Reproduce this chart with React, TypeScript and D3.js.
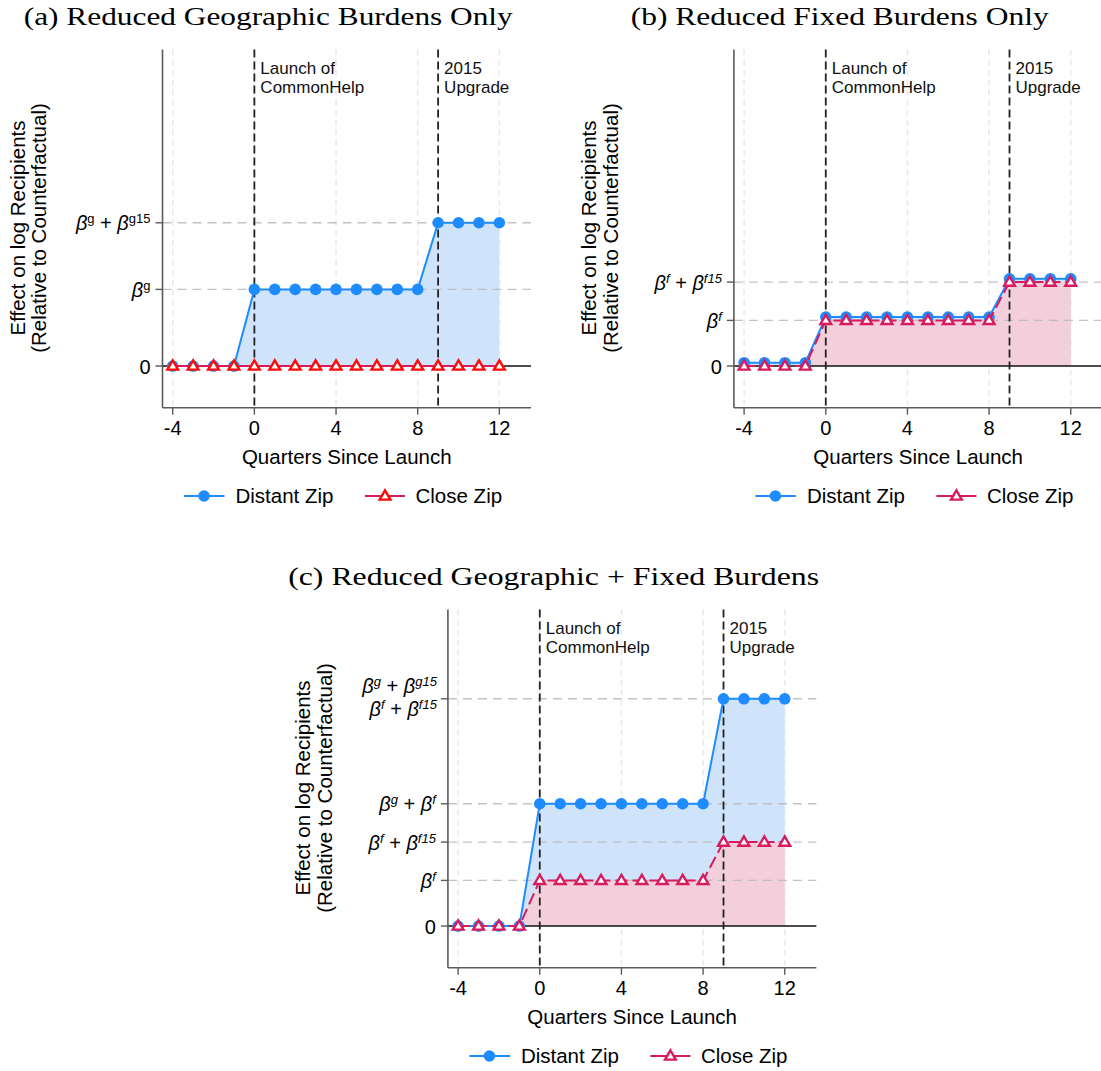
import React from "react";
import * as d3 from "d3";

// Quarters relative to the CommonHelp launch
const quarters = [-4, -3, -2, -1, 0, 1, 2, 3, 4, 5, 6, 7, 8, 9, 10, 11, 12];
const xTicks = [-4, 0, 4, 8, 12];
const eventQuarters = [0, 9];
const eventLabels = [
  ["Launch of", "CommonHelp"],
  ["2015", "Upgrade"],
];

// (a) geographic burdens only
const distantA = [0, 0, 0, 0, 0.23, 0.23, 0.23, 0.23, 0.23, 0.23, 0.23, 0.23, 0.23, 0.43, 0.43, 0.43, 0.43];
const closeA = [0, 0, 0, 0, 0, 0, 0, 0, 0, 0, 0, 0, 0, 0, 0, 0, 0];
// (b) fixed burdens only
const distantB = [0.01, 0.01, 0.01, 0.01, 0.147, 0.147, 0.147, 0.147, 0.147, 0.147, 0.147, 0.147, 0.147, 0.262, 0.262, 0.262, 0.262];
const closeB = [0, 0, 0, 0, 0.137, 0.137, 0.137, 0.137, 0.137, 0.137, 0.137, 0.137, 0.137, 0.252, 0.252, 0.252, 0.252];
// (c) geographic + fixed burdens
const distantC = [0, 0, 0, 0, 0.367, 0.367, 0.367, 0.367, 0.367, 0.367, 0.367, 0.367, 0.367, 0.682, 0.682, 0.682, 0.682];
const closeC = [0, 0, 0, 0, 0.137, 0.137, 0.137, 0.137, 0.137, 0.137, 0.137, 0.137, 0.137, 0.252, 0.252, 0.252, 0.252];

type Seg = { t: string; sup?: boolean; it?: boolean };
type TickLabel = { v: number; lines: Seg[][] };

const B: Seg = { t: "β", it: true };
const PLUS: Seg = { t: " + " };

const ticksA: TickLabel[] = [
  { v: 0, lines: [[{ t: "0" }]] },
  { v: 0.23, lines: [[B, { t: "g", sup: true }]] },
  { v: 0.43, lines: [[B, { t: "g", sup: true }, PLUS, B, { t: "g15", sup: true }]] },
];
const ticksB: TickLabel[] = [
  { v: 0, lines: [[{ t: "0" }]] },
  { v: 0.137, lines: [[B, { t: "f", sup: true }]] },
  { v: 0.252, lines: [[B, { t: "f", sup: true }, PLUS, B, { t: "f15", sup: true }]] },
];
const ticksC: TickLabel[] = [
  { v: 0, lines: [[{ t: "0" }]] },
  { v: 0.137, lines: [[B, { t: "f", sup: true }]] },
  { v: 0.252, lines: [[B, { t: "f", sup: true }, PLUS, B, { t: "f15", sup: true }]] },
  { v: 0.367, lines: [[B, { t: "g", sup: true }, PLUS, B, { t: "f", sup: true }]] },
  {
    v: 0.682,
    lines: [
      [B, { t: "g", sup: true }, PLUS, B, { t: "g15", sup: true }],
      [B, { t: "f", sup: true }, PLUS, B, { t: "f15", sup: true }],
    ],
  },
];

const titles = [
  "(a) Reduced Geographic Burdens Only",
  "(b) Reduced Fixed Burdens Only",
  "(c) Reduced Geographic + Fixed Burdens",
];

const BLUE = "#1e8cff";
const BLUE_FILL = "#cfe3fb";
const CRIMSON = "#d81b5e";
const PINK_FILL = "#f3cedb";
const RED = "#ff0a0a";
const SANS = "'Liberation Sans', Arial, Helvetica, sans-serif";
const SERIF = "'Liberation Serif', 'Times New Roman', serif";

// Plot frame (local coordinates of a panel)
const L = 162.5;
const R = 531;
const T = 49.5;
const BOT = 407.7;

const x = d3.scaleLinear().domain([-4.5, 13.55]).range([L, R]);
const y = d3.scaleLinear().domain([-0.125, 0.95]).range([BOT, T]);

function triPath(cx: number, cy: number) {
  return `M${cx},${cy - 5.6}L${cx + 5.4},${cy + 3.6}L${cx - 5.4},${cy + 3.6}Z`;
}

function TickText({ segs, xr, yb, supItalic }: { segs: Seg[]; xr: number; yb: number; supItalic: boolean }) {
  let raised = false;
  return (
    <text x={xr} y={yb} textAnchor="end" fontFamily={SANS} fontSize={20} fill="#000">
      {segs.map((s, i) => {
        let dy = 0;
        if (s.sup && !raised) {
          dy = -7;
          raised = true;
        } else if (!s.sup && raised) {
          dy = 7;
          raised = false;
        }
        return (
          <tspan
            key={i}
            dy={dy}
            fontSize={s.sup ? 13 : 20}
            fontStyle={s.it || (s.sup && supItalic) ? "italic" : "normal"}
          >
            {s.t}
          </tspan>
        );
      })}
    </text>
  );
}

function Panel(props: {
  ox: number;
  oy: number;
  title: string;
  titleWidth: number;
  distant: number[];
  close: number[];
  ticks: TickLabel[];
  triColor: string;
  closeDash: string | undefined;
  supItalic: boolean;
}) {
  const { ox, oy, title, titleWidth, distant, close, ticks, triColor, closeDash, supItalic } = props;
  const dData = quarters.map((q, i) => [q, distant[i]] as [number, number]);
  const cData = quarters.map((q, i) => [q, close[i]] as [number, number]);
  const line = d3
    .line<[number, number]>()
    .x((d) => x(d[0]))
    .y((d) => y(d[1]));
  const area = d3
    .area<[number, number]>()
    .x((d) => x(d[0]))
    .y0(y(0))
    .y1((d) => y(d[1]));
  const cx = (L + R) / 2;

  return (
    <g transform={`translate(${ox},${oy})`}>
      <text
        x={cx - 78.5}
        y={25}
        textAnchor="middle"
        fontFamily={SERIF}
        fontSize={26}
        textLength={titleWidth}
        lengthAdjust="spacingAndGlyphs"
      >
        {title}
      </text>

      {/* light vertical grid */}
      {xTicks.map((q) => (
        <line key={q} x1={x(q)} x2={x(q)} y1={T} y2={BOT} stroke="#e9e9e9" strokeWidth={1.5} strokeDasharray="6,4" />
      ))}

      {/* shaded areas */}
      <path d={area(dData) || ""} fill={BLUE_FILL} />
      <path d={area(cData) || ""} fill={PINK_FILL} />

      {/* horizontal reference lines */}
      {ticks
        .filter((t) => t.v !== 0)
        .map((t) => (
          <line
            key={t.v}
            x1={L}
            x2={R}
            y1={y(t.v)}
            y2={y(t.v)}
            stroke="#b9b9b9"
            strokeOpacity={0.85}
            strokeWidth={1.4}
            strokeDasharray="9,6"
          />
        ))}
      <line x1={L} x2={R} y1={y(0)} y2={y(0)} stroke="#111" strokeWidth={1.5} />

      {/* event lines */}
      {eventQuarters.map((q, i) => (
        <g key={q}>
          <line x1={x(q)} x2={x(q)} y1={T} y2={BOT} stroke="#222" strokeWidth={1.8} strokeDasharray="8,4" />
          {eventLabels[i].map((s, j) => (
            <text key={j} x={x(q) + 6} y={74 + j * 18.5} fontFamily={SANS} fontSize={17} fill="#111">
              {s}
            </text>
          ))}
        </g>
      ))}

      {/* axes */}
      <line x1={L} x2={L} y1={T} y2={BOT} stroke="#5a5a5a" strokeWidth={1.6} />
      <line x1={L} x2={R} y1={BOT} y2={BOT} stroke="#5a5a5a" strokeWidth={1.6} />
      {xTicks.map((q) => (
        <g key={q}>
          <line x1={x(q)} x2={x(q)} y1={BOT} y2={BOT + 7} stroke="#5a5a5a" strokeWidth={1.4} />
          <text x={x(q)} y={435} textAnchor="middle" fontFamily={SANS} fontSize={20}>
            {q}
          </text>
        </g>
      ))}
      {ticks.map((t) => (
        <g key={t.v}>
          <line x1={L - 7} x2={L} y1={y(t.v)} y2={y(t.v)} stroke="#5a5a5a" strokeWidth={1.4} />
          {t.lines.length === 1 ? (
            <TickText segs={t.lines[0]} xr={L - 12} yb={y(t.v) + 7.5} supItalic={supItalic} />
          ) : (
            t.lines.map((ln, j) => (
              <TickText key={j} segs={ln} xr={L - 11} yb={y(t.v) - 6 + j * 23} supItalic={supItalic} />
            ))
          )}
        </g>
      ))}

      <text x={cx} y={464} textAnchor="middle" fontFamily={SANS} fontSize={20.5}>
        Quarters Since Launch
      </text>
      <text transform={`translate(17.5,228) rotate(-90)`} textAnchor="middle" dy="0.35em" fontFamily={SANS} fontSize={20.5}>
        Effect on log Recipients
      </text>
      <text transform={`translate(39,228) rotate(-90)`} textAnchor="middle" dy="0.35em" fontFamily={SANS} fontSize={20.5}>
        (Relative to Counterfactual)
      </text>

      {/* series */}
      <path d={line(dData) || ""} fill="none" stroke={BLUE} strokeWidth={2} />
      {dData.map((d) => (
        <circle key={d[0]} cx={x(d[0])} cy={y(d[1])} r={5.8} fill={BLUE} />
      ))}
      <path d={line(cData) || ""} fill="none" stroke={CRIMSON} strokeWidth={2} strokeDasharray={closeDash} />
      {cData.map((d) => (
        <path key={d[0]} d={triPath(x(d[0]), y(d[1]))} fill="#fff" stroke={triColor} strokeWidth={2.4} strokeLinejoin="miter" />
      ))}

      {/* legend */}
      <line x1={184} x2={224.5} y1={496} y2={496} stroke={BLUE} strokeWidth={2} />
      <circle cx={204} cy={496} r={5.8} fill={BLUE} />
      <text x={235.5} y={503} fontFamily={SANS} fontSize={20.5}>
        Distant Zip
      </text>
      <line x1={365} x2={405} y1={496} y2={496} stroke={CRIMSON} strokeWidth={2} />
      <path d={triPath(385, 496)} fill="#fff" stroke={triColor} strokeWidth={2.4} />
      <text x={415.5} y={503} fontFamily={SANS} fontSize={20.5}>
        Close Zip
      </text>
    </g>
  );
}

export default function App() {
  return (
    <svg
      width={1101}
      height={1071}
      viewBox="0 0 1101 1071"
      style={{ position: "absolute", left: 0, top: 0, background: "#fff" }}
    >
      <rect width={1101} height={1071} fill="#fff" />
      <Panel
        ox={0}
        oy={0}
        title={titles[0]}
        titleWidth={489}
        distant={distantA}
        close={closeA}
        ticks={ticksA}
        triColor={RED}
        closeDash={undefined}
        supItalic={false}
      />
      <Panel
        ox={571.4}
        oy={0}
        title={titles[1]}
        titleWidth={418}
        distant={distantB}
        close={closeB}
        ticks={ticksB}
        triColor={CRIMSON}
        closeDash="12,5"
        supItalic={true}
      />
      <Panel
        ox={285.4}
        oy={560}
        title={titles[2]}
        titleWidth={531}
        distant={distantC}
        close={closeC}
        ticks={ticksC}
        triColor={CRIMSON}
        closeDash="12,5"
        supItalic={true}
      />
    </svg>
  );
}
